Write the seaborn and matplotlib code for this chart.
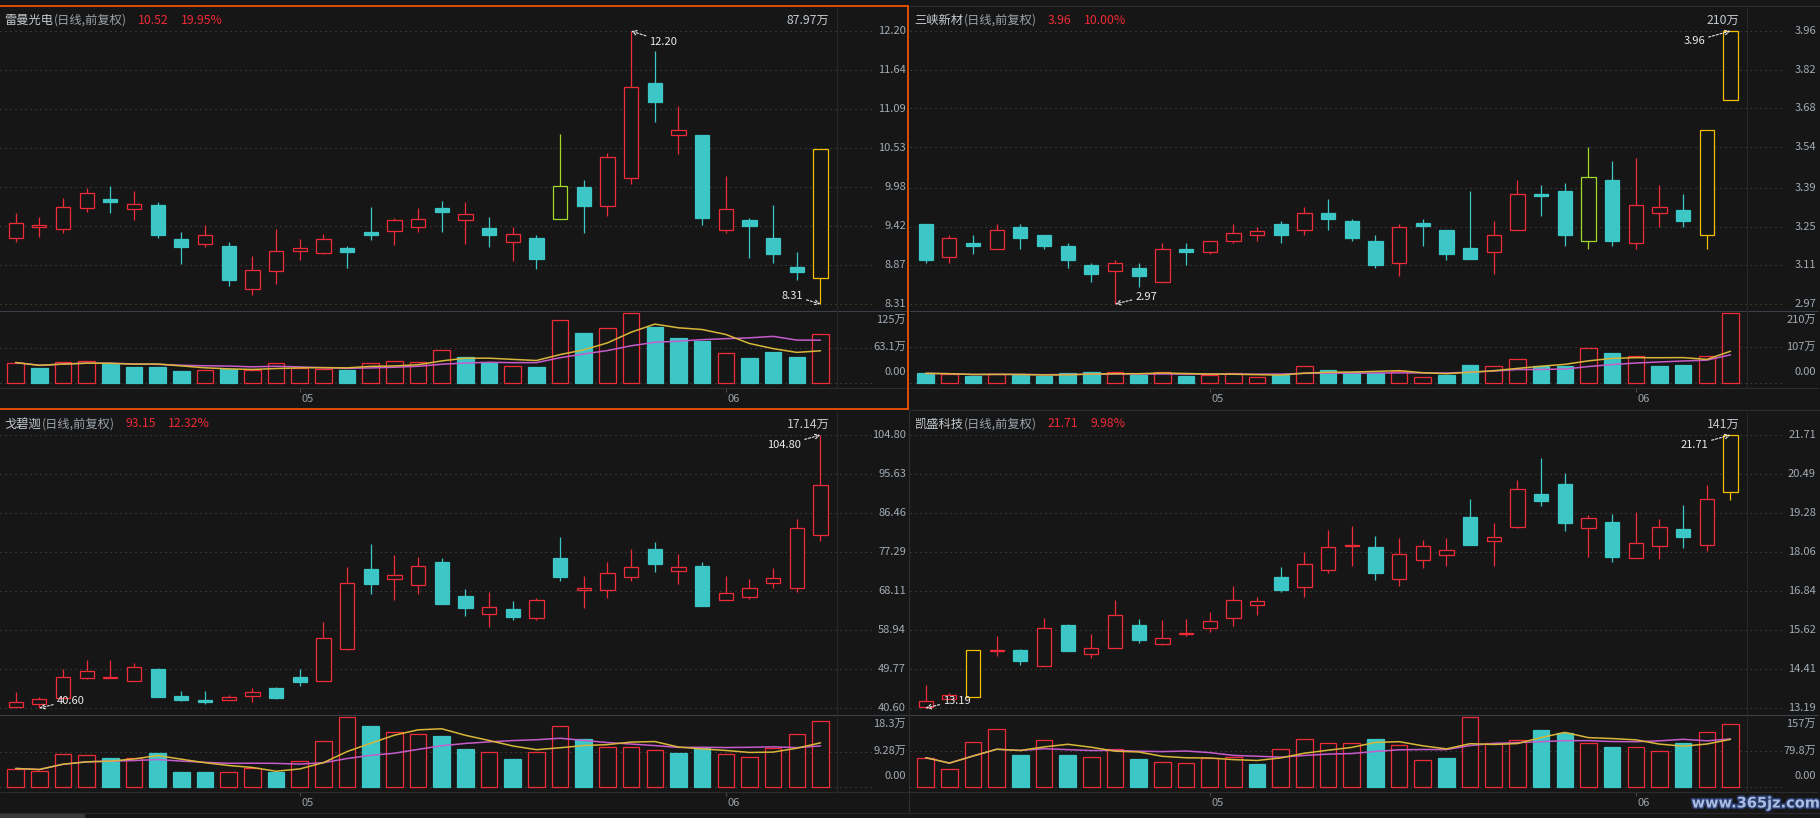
import numpy as np
import pandas as pd
import matplotlib
matplotlib.use("Agg")
import matplotlib.pyplot as plt
import seaborn as sns
from matplotlib.lines import Line2D
from matplotlib.patches import Rectangle
import matplotlib.patheffects as pe

# ---------------- data ----------------
MONTH_TICKS = [12, 30]
MONTH_LABELS = ["05", "06"]
HEADER_SUFFIX = "(日线,前复权)"

# Panel 1: 雷曼光电
P1_NAME = "雷曼光电"
P1_QUOTE = ["10.52", "19.95%"]
P1_OPEN = [9.25, 9.41, 9.38, 9.68, 9.80, 9.66, 9.72, 9.23, 9.16, 9.13, 8.52, 8.78, 9.07, 9.03, 9.11, 9.34, 9.35, 9.41,
           9.68, 9.51, 9.39, 9.19, 9.25, 9.52, 9.98, 9.71, 10.10, 11.46, 10.72, 10.72, 9.36, 9.51, 9.25, 8.84, 8.68]
P1_HIGH = [9.61, 9.55, 9.82, 9.97, 9.99, 9.92, 9.77, 9.33, 9.43, 9.20, 9.00, 9.38, 9.23, 9.31, 9.13, 9.69, 9.53, 9.68,
           9.78, 9.77, 9.55, 9.41, 9.30, 10.73, 10.07, 10.46, 12.20, 11.92, 11.13, 10.72, 10.14, 9.53, 9.72, 9.05, 10.52]
P1_LOW = [9.20, 9.26, 9.32, 9.62, 9.61, 9.50, 9.25, 8.88, 9.12, 8.57, 8.44, 8.60, 8.94, 9.02, 8.82, 9.22, 9.15, 9.34,
          9.34, 9.16, 9.12, 8.92, 8.81, 9.52, 9.32, 9.56, 10.02, 10.90, 10.45, 9.43, 9.32, 8.96, 8.89, 8.65, 8.31]
P1_CLOSE = [9.46, 9.43, 9.69, 9.89, 9.76, 9.73, 9.29, 9.12, 9.29, 8.65, 8.79, 9.06, 9.11, 9.23, 9.05, 9.30, 9.51, 9.52,
            9.62, 9.59, 9.29, 9.31, 8.95, 9.99, 9.71, 10.40, 11.40, 11.19, 10.79, 9.54, 9.66, 9.42, 9.02, 8.77, 10.52]
P1_VOL = [36.8, 26.9, 38.6, 40.3, 35.1, 28.6, 28.6, 21.6, 23.4, 25.7, 23.4, 36.8, 27.5, 25.7, 23.4, 36.8, 40.3, 38.6,
          59.6, 47.3, 36.8, 29.8, 28.6, 112.2, 89.4, 98.2, 124.5, 100.5, 79.5, 74.2, 54.4, 44.4, 54.9, 46.2, 87.97]
P1_VOL_LABEL = "87.97万"
P1_PRICE_TICKS = ["12.20", "11.64", "11.09", "10.53", "9.98", "9.42", "8.87", "8.31"]
P1_VOL_TICKS = ["125万", "63.1万", "0.00"]
P1_LIMIT = [34]
P1_MARK = [23]

# Panel 2: 三峡新材
P2_NAME = "三峡新材"
P2_QUOTE = ["3.96", "10.00%"]
P2_OPEN = [3.26, 3.14, 3.19, 3.17, 3.25, 3.22, 3.18, 3.11, 3.09, 3.10, 3.05, 3.17, 3.16, 3.20, 3.22, 3.26, 3.24, 3.30,
           3.27, 3.20, 3.12, 3.262, 3.24, 3.173, 3.16, 3.24, 3.37, 3.38, 3.20, 3.42, 3.19, 3.30, 3.31, 3.22, 3.71]
P2_HIGH = [3.26, 3.22, 3.22, 3.26, 3.26, 3.22, 3.19, 3.12, 3.13, 3.12, 3.19, 3.19, 3.20, 3.26, 3.25, 3.27, 3.32, 3.35,
           3.28, 3.22, 3.26, 3.28, 3.24, 3.38, 3.27, 3.42, 3.40, 3.41, 3.54, 3.49, 3.50, 3.40, 3.37, 3.60, 3.96]
P2_LOW = [3.12, 3.12, 3.15, 3.17, 3.17, 3.17, 3.10, 3.05, 2.97, 3.03, 3.05, 3.11, 3.15, 3.19, 3.20, 3.19, 3.22, 3.24,
          3.20, 3.10, 3.07, 3.18, 3.13, 3.132, 3.08, 3.24, 3.29, 3.18, 3.17, 3.18, 3.17, 3.25, 3.25, 3.17, 3.71]
P2_CLOSE = [3.13, 3.21, 3.18, 3.24, 3.21, 3.18, 3.13, 3.08, 3.12, 3.07, 3.17, 3.16, 3.20, 3.229, 3.234, 3.22, 3.30, 3.28,
            3.21, 3.11, 3.248, 3.252, 3.15, 3.132, 3.22, 3.37, 3.36, 3.22, 3.43, 3.20, 3.33, 3.32, 3.27, 3.60, 3.96]
P2_VOL = [29.6, 27.6, 21.7, 27.6, 25.6, 21.7, 29.6, 33.5, 32.5, 25.6, 32.5, 21.7, 25.6, 29.6, 19.7, 25.6, 50.3, 39.4,
          32.5, 29.6, 36.5, 19.7, 24.7, 54.2, 52.3, 71.0, 52.3, 52.3, 106.5, 88.8, 81.9, 51.3, 54.2, 79.9, 210.0]
P2_VOL_LABEL = "210万"
P2_PRICE_TICKS = ["3.96", "3.82", "3.68", "3.54", "3.39", "3.25", "3.11", "2.97"]
P2_VOL_TICKS = ["210万", "107万", "0.00"]
P2_LIMIT = [33, 34]
P2_MARK = [28]

# Panel 3: 戈碧迦
P3_NAME = "戈碧迦"
P3_QUOTE = ["93.15", "12.32%"]
P3_OPEN = [40.92, 41.55, 42.96, 47.69, 47.61, 47.06, 49.82, 43.51, 42.41, 42.57, 43.51, 45.25, 47.85, 47.06, 54.54,
           73.37, 70.85, 69.51, 74.95, 66.91, 62.66, 63.84, 61.71, 75.97, 68.33, 68.33, 71.40, 78.10, 72.82, 74.00,
           65.96, 66.67, 69.98, 68.80, 81.40]
P3_HIGH = [44.30, 43.12, 49.66, 51.86, 51.86, 51.16, 49.98, 44.54, 44.70, 43.67, 45.25, 45.64, 49.74, 60.84, 73.68,
           79.28, 76.68, 76.21, 75.89, 68.64, 67.93, 65.73, 66.44, 80.93, 71.56, 75.02, 78.10, 79.75, 76.76, 74.95,
           71.56, 71.01, 73.60, 84.95, 104.80]
P3_LOW = [40.92, 40.60, 42.96, 47.53, 47.61, 47.06, 43.20, 42.25, 41.62, 42.41, 42.02, 42.80, 45.80, 47.06, 54.23,
          67.30, 65.89, 67.30, 64.94, 62.34, 59.74, 61.39, 61.39, 70.38, 64.23, 66.36, 70.38, 72.66, 69.67, 64.70,
          65.96, 66.12, 68.80, 67.78, 79.83]
P3_CLOSE = [42.10, 42.80, 48.00, 49.26, 47.85, 50.13, 43.20, 42.49, 42.02, 43.12, 44.46, 42.96, 46.74, 56.98, 69.98,
            69.67, 71.87, 74.00, 65.10, 64.00, 64.40, 62.10, 65.96, 71.32, 68.80, 72.34, 73.84, 74.39, 73.84, 64.70,
            67.62, 68.80, 71.16, 83.00, 93.15]
P3_VOL = [4.88, 4.36, 8.73, 8.47, 7.53, 7.70, 8.81, 3.93, 3.93, 3.93, 5.13, 3.93, 6.93, 12.06, 18.3, 16.0, 14.37,
          13.86, 13.43, 9.84, 9.24, 7.27, 9.07, 15.91, 12.66, 10.52, 10.52, 9.75, 8.81, 10.18, 8.55, 7.96, 10.18,
          13.86, 17.14]
P3_VOL_LABEL = "17.14万"
P3_PRICE_TICKS = ["104.80", "95.63", "86.46", "77.29", "68.11", "58.94", "49.77", "40.60"]
P3_VOL_TICKS = ["18.3万", "9.28万", "0.00"]
P3_LIMIT = []
P3_MARK = []

# Panel 4: 凯盛科技
P4_NAME = "凯盛科技"
P4_QUOTE = ["21.71", "9.98%"]
P4_OPEN = [13.23, 13.48, 13.54, 14.97, 14.99, 14.49, 15.78, 14.86, 15.05, 15.78, 15.18, 15.49, 15.68, 15.99, 16.40,
           17.29, 16.96, 17.50, 18.26, 18.20, 17.22, 17.81, 17.97, 19.14, 18.41, 18.84, 19.86, 20.17, 18.81, 18.98,
           17.87, 18.25, 18.79, 18.28, 19.94]
P4_HIGH = [13.92, 13.66, 14.99, 15.43, 15.02, 15.99, 15.81, 15.49, 16.57, 15.96, 15.94, 15.97, 16.19, 17.01, 16.66,
           17.58, 18.07, 18.73, 18.86, 18.56, 18.48, 18.44, 18.48, 19.70, 18.95, 20.31, 20.99, 20.51, 19.22, 19.26,
           19.30, 19.08, 19.54, 20.14, 21.71]
P4_LOW = [13.19, 13.48, 13.54, 14.81, 14.54, 14.49, 14.96, 14.76, 15.05, 15.21, 15.15, 15.43, 15.57, 15.74, 16.10,
          16.80, 16.64, 17.39, 17.61, 17.20, 16.99, 17.55, 17.63, 18.27, 17.61, 18.80, 19.49, 18.71, 17.89, 17.74,
          17.87, 17.83, 18.18, 18.09, 19.69]
P4_CLOSE = [13.42, 13.60, 14.99, 15.00, 14.66, 15.68, 14.98, 15.05, 16.10, 15.30, 15.39, 15.53, 15.90, 16.56, 16.53,
            16.88, 17.69, 18.20, 18.29, 17.41, 18.00, 18.25, 18.12, 18.27, 18.53, 20.04, 19.66, 18.96, 19.13, 17.89,
            18.34, 18.85, 18.52, 19.72, 21.71]
P4_VOL = [66.0, 41.8, 101.2, 129.9, 71.2, 105.6, 71.2, 68.2, 85.8, 62.4, 57.2, 55.0, 66.0, 67.5, 52.8, 85.8, 107.8,
          99.0, 99.0, 107.8, 94.6, 61.6, 64.6, 157.0, 99.0, 104.9, 128.4, 121.8, 99.0, 88.8, 90.2, 81.4, 98.3, 123.3,
          141.0]
P4_VOL_LABEL = "141万"
P4_PRICE_TICKS = ["21.71", "20.49", "19.28", "18.06", "16.84", "15.62", "14.41", "13.19"]
P4_VOL_TICKS = ["157万", "79.8万", "0.00"]
P4_LIMIT = [2, 34]
P4_MARK = []

# ---------------- style ----------------
BG = "#161616"
RED = "#f02a36"
CYAN = "#3cc6c6"
GOLD = "#f5bf00"
LIME = "#a2d82a"
GRID = "#4c4c4c"
TICK = "#a2abb4"
MA5_C = "#d8b63a"
MA10_C = "#c65ccb"
ORANGE = "#ff5a00"

sns.set_theme(style="dark", rc={"axes.facecolor": BG, "figure.facecolor": BG,
                                "savefig.facecolor": BG})
plt.rcParams['font.family'] = ['Noto Sans CJK SC', 'DejaVu Sans']

W, H = 1820, 818
fig = plt.figure(figsize=(W / 100, H / 100), dpi=100)


def px_axes(x0, y0, x1, y1):
    a = fig.add_axes([x0 / W, 1 - y1 / H, (x1 - x0) / W, (y1 - y0) / H])
    a.set_axis_off()
    return a


def fig_line(x0, y0, x1, y1, color, lw=0.75):
    fig.add_artist(Line2D([x0 / W, x1 / W], [1 - y0 / H, 1 - y1 / H], color=color, lw=lw,
                          transform=fig.transFigure))


X0, DX = 15.7, 23.67


def xd(px):
    return (px - X0) / DX


def draw_panel(ox, oy, name, quote, o, h, l, c, vol, vol_label, pticks, vticks, limit_idx, mark_idx):
    o, h, l, c, vol = map(np.asarray, (o, h, l, c, vol))
    n = len(o)
    idx = np.arange(n)
    xlim = (xd(0), xd(908))

    # ---- price axes ----
    pvals = [float(s) for s in pticks]
    pmax, pmin = max(pvals), min(pvals)
    GT, GB = 31.0, 304.0
    ppx = (pmax - pmin) / (GB - GT)
    ax = px_axes(ox, oy + 8, ox + 908, oy + 310.7)
    ax.set_xlim(*xlim)
    ax.set_ylim(pmin - (310.7 - GB) * ppx, pmax + (GT - 8) * ppx)
    for s, v in zip(pticks, pvals):
        ax.plot([xlim[0], xd(874)], [v, v], color=GRID, lw=0.8, ls=(0, (1, 3.5)), zorder=1)
        ax.text(xd(906), v, s, ha='right', va='center', fontsize=8, color=TICK)

    for i in idx:
        up = c[i] >= o[i]
        if i in limit_idx:
            col, face = GOLD, BG
        elif i in mark_idx:
            col, face = LIME, BG
        elif up:
            col, face = RED, BG
        else:
            col, face = CYAN, CYAN
        lo, hi = min(o[i], c[i]), max(o[i], c[i])
        hgt = max(hi - lo, ppx * 0.6)
        ax.vlines(i, hi, h[i], color=col, lw=0.9, zorder=2)
        ax.vlines(i, l[i], lo, color=col, lw=0.9, zorder=2)
        ax.bar(i, hgt, bottom=lo, width=0.6, facecolor=face, edgecolor=col, linewidth=0.9, zorder=3)

    # extreme markers
    imax, imin = int(np.argmax(h)), int(np.argmin(l))
    aprops = dict(arrowstyle='->', color='#e6e6e6', lw=0.8, linestyle=(0, (2, 1.5)),
                  shrinkA=0, shrinkB=0)
    hoff = (-36, -10) if imax >= 30 else (32, -10.5)
    loff = (-28, 8.3) if imin >= 30 else (31, 7.5)
    ax.annotate(pticks[0], xy=(imax, h[imax]), xytext=hoff, textcoords='offset pixels',
                ha='center', va='center', fontsize=8, color='#ececec', arrowprops=aprops, zorder=6)
    ax.annotate(pticks[-1], xy=(imin, l[imin]), xytext=loff, textcoords='offset pixels',
                ha='center', va='center', fontsize=8, color='#ececec', arrowprops=aprops, zorder=6)

    # ---- volume axes ----
    vnum = [float(s.replace('万', '')) for s in vticks]
    vtop, vmid = vnum[0], vnum[1]
    ZERO = 383.3
    vpp = vtop / 70.5
    vax = px_axes(ox, oy + 310.7, ox + 908, oy + 387.7)
    vax.set_xlim(*xlim)
    vax.set_ylim(-(387.7 - ZERO) * vpp, (ZERO - 310.7) * vpp)
    for v in (vmid, 0.0):
        vax.plot([xlim[0], xd(874)], [v, v], color=GRID, lw=0.8, ls=(0, (1, 3.5)), zorder=1)
    for s, v, off in zip(vticks, [vtop, vmid, 0.0], [-7.5, 0.5, 11.5]):
        vax.annotate(s, xy=(xd(906), v), xytext=(0, off), textcoords='offset pixels',
                     ha='right', va='center', fontsize=8, color=TICK)
    prev = np.concatenate([[o[0]], c[:-1]])
    rising = c >= prev
    faces = [BG if r else CYAN for r in rising]
    edges = [RED if r else CYAN for r in rising]
    vax.bar(idx, vol, width=0.7, color=faces, edgecolor=edges, linewidth=0.9, zorder=2)
    vs = pd.Series(vol)
    ma = pd.DataFrame({"x": idx, "ma5": vs.rolling(5, min_periods=1).mean(),
                       "ma10": vs.rolling(10, min_periods=1).mean()})
    sns.lineplot(data=ma, x="x", y="ma10", ax=vax, color=MA10_C, lw=1.1, zorder=4)
    sns.lineplot(data=ma, x="x", y="ma5", ax=vax, color=MA5_C, lw=1.1, zorder=5)
    vax.set_axis_off()

    # ---- date strip ----
    dax = px_axes(ox, oy + 387.7, ox + 908, oy + 409)
    dax.set_xlim(*xlim)
    dax.set_ylim(0, 1)
    for t, s in zip(MONTH_TICKS, MONTH_LABELS):
        dax.vlines(t, 0.8, 1.0, color='#4a4a4a', lw=0.8)
        dax.annotate(s, xy=(t, 0.47), xytext=(1.5, 0), textcoords='offset pixels',
                     ha='left', va='center', fontsize=8, color='#9aa2aa')

    # ---- separators ----
    fig_line(ox, oy + 310.7, ox + 908, oy + 310.7, '#3a3f49', 0.8)
    fig_line(ox, oy + 387.7, ox + 908, oy + 387.7, '#2c2c2c', 0.8)
    fig_line(ox + 836.7, oy + 8, ox + 836.7, oy + 387.7, '#282828', 0.8)

    # ---- header ----
    t1 = fig.text((ox + 4) / W, 1 - (oy + 20) / H, name, ha='left', va='center',
                  fontsize=8.8, color='#c4cad0')
    t2 = ax.annotate(HEADER_SUFFIX, xy=(1, 0.5), xycoords=t1, xytext=(1, 0),
                     textcoords='offset pixels', ha='left', va='center', fontsize=8.8, color='#9aa2aa')
    t3 = ax.annotate(quote[0], xy=(1, 0.5), xycoords=t2, xytext=(11, 0),
                     textcoords='offset pixels', ha='left', va='center', fontsize=8.8, color=RED)
    ax.annotate(quote[1], xy=(1, 0.5), xycoords=t3, xytext=(12, 0),
                textcoords='offset pixels', ha='left', va='center', fontsize=8.8, color=RED)
    fig.text((ox + 829.5) / W, 1 - (oy + 20) / H, vol_label, ha='right', va='center',
             fontsize=8.8, color='#c4cad0')


draw_panel(0, 0, P1_NAME, P1_QUOTE, P1_OPEN, P1_HIGH, P1_LOW, P1_CLOSE, P1_VOL, P1_VOL_LABEL,
           P1_PRICE_TICKS, P1_VOL_TICKS, P1_LIMIT, P1_MARK)
draw_panel(910, 0, P2_NAME, P2_QUOTE, P2_OPEN, P2_HIGH, P2_LOW, P2_CLOSE, P2_VOL, P2_VOL_LABEL,
           P2_PRICE_TICKS, P2_VOL_TICKS, P2_LIMIT, P2_MARK)
draw_panel(0, 404, P3_NAME, P3_QUOTE, P3_OPEN, P3_HIGH, P3_LOW, P3_CLOSE, P3_VOL, P3_VOL_LABEL,
           P3_PRICE_TICKS, P3_VOL_TICKS, P3_LIMIT, P3_MARK)
draw_panel(910, 404, P4_NAME, P4_QUOTE, P4_OPEN, P4_HIGH, P4_LOW, P4_CLOSE, P4_VOL, P4_VOL_LABEL,
           P4_PRICE_TICKS, P4_VOL_TICKS, P4_LIMIT, P4_MARK)

# frame lines
fig_line(910, 6, 1820, 6, '#2e2e2e', 0.8)
fig_line(910, 410, 1820, 410, '#2e2e2e', 0.8)
fig_line(909.3, 410, 909.3, 812, '#2e2e2e', 0.8)
fig_line(0, 812.5, 1820, 812.5, '#2a2a2a', 0.8)
fig.add_artist(Rectangle((0, 0), 84 / W, 4 / H, transform=fig.transFigure, color='#3a3a3a'))
fig_line(0, 6, 908.3, 6, ORANGE, 1.2)
fig_line(908.3, 6, 908.3, 409, ORANGE, 1.2)
fig_line(0, 409, 908.3, 409, ORANGE, 1.2)

# watermark
fig.text(1756 / W, 1 - 803 / H, "www.365jz.com", ha='center', va='center', fontsize=10.5,
         fontweight='bold', color='#a9bde2', family=['DejaVu Sans'],
         path_effects=[pe.withStroke(linewidth=2.2, foreground='#2b3c6e')])

fig.savefig("out.png", dpi=100, facecolor=BG)
